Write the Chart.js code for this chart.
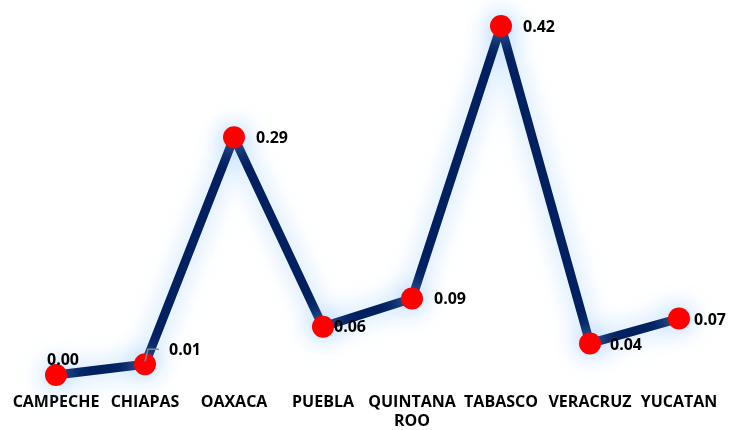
<!DOCTYPE html>
<html>
<head>
<meta charset="utf-8">
<script src="https://cdn.jsdelivr.net/npm/chart.js@4.4.0/dist/chart.umd.min.js"></script>
<style>
html,body{margin:0;padding:0;background:#fff;}
#c{display:block;}
</style>
</head>
<body>
<canvas id="c" width="738" height="430"></canvas>
<script>
const categories = ['CAMPECHE', 'CHIAPAS', 'OAXACA', 'PUEBLA', ['QUINTANA', 'ROO'], 'TABASCO', 'VERACRUZ', 'YUCATAN'];
const values = [0.00, 0.013, 0.286, 0.058, 0.092, 0.42, 0.038, 0.068];
const yMin = 0;
const yMax = 0.42;

const FONT = '"Open Sans", Lato, sans-serif';

const glowPlugin = {
  id: 'glow',
  beforeDatasetDraw(chart, args) {
    const ctx = chart.ctx;
    ctx.save();
    if (args.index === 0) {
      ctx.shadowColor = 'rgba(150,200,255,0.8)';
      ctx.shadowBlur = 24;
    }
  },
  afterDatasetDraw(chart) {
    chart.ctx.restore();
  }
};

const labelPlugin = {
  id: 'valueLabels',
  afterDatasetsDraw(chart) {
    const ctx = chart.ctx;
    const meta = chart.getDatasetMeta(0);
    ctx.save();
    ctx.font = 'bold 16px ' + FONT;
    ctx.fillStyle = '#000';
    ctx.textBaseline = 'middle';
    meta.data.forEach((pt, i) => {
      const txt = values[i].toFixed(2);
      let x = pt.x, y = pt.y;
      if (i === 0) {
        ctx.textAlign = 'center';
        ctx.fillText(txt, x + 7, y - 15);
        return;
      }
      ctx.textAlign = 'left';
      if (i === 1) {
        ctx.strokeStyle = '#888';
        ctx.lineWidth = 1.5;
        ctx.beginPath();
        ctx.moveTo(x, y - 3);
        ctx.lineTo(x + 3, y - 15);
        ctx.lineTo(x + 14, y - 15);
        ctx.stroke();
        ctx.fillText(txt, x + 24, y - 14);
        return;
      }
      let dx = 22, dy = 1;
      if (i === 3) { dx = 11; dy = 1; }
      if (i === 6) { dx = 20; dy = 2; }
      if (i === 7) { dx = 15; dy = 2; }
      ctx.fillText(txt, x + dx, y + dy);
    });
    ctx.restore();
  }
};

new Chart(document.getElementById('c'), {
  type: 'line',
  data: {
    labels: categories,
    datasets: [{
      data: values,
      borderColor: '#002060',
      borderWidth: 9,
      borderJoinStyle: 'round',
      borderCapStyle: 'round',
      pointRadius: 11,
      pointBackgroundColor: '#ff0000',
      pointBorderWidth: 0,
      tension: 0,
      clip: false
    }, {
      data: values,
      showLine: false,
      pointRadius: 1.3,
      pointBackgroundColor: '#ffd0d0',
      pointBorderWidth: 0,
      clip: false
    }]
  },
  options: {
    responsive: false,
    animation: false,
    events: [],
    layout: { padding: { left: 56, right: 59, top: 26, bottom: 0 } },
    plugins: { legend: { display: false }, tooltip: { enabled: false } },
    scales: {
      x: {
        offset: false,
        grid: { display: false },
        border: { display: false },
        ticks: {
          color: '#000',
          font: { family: FONT, size: 16, weight: 'bold', lineHeight: 1.2 },
          padding: 10,
          maxRotation: 0,
          autoSkip: false
        },
        afterFit(scale) { scale.height = 55; }
      },
      y: {
        display: false,
        min: yMin,
        max: yMax
      }
    }
  },
  plugins: [glowPlugin, labelPlugin]
});
</script>
</body>
</html>
